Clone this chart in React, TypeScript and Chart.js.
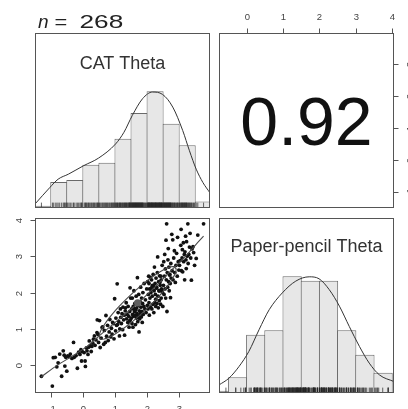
import React, { useEffect, useRef } from "react";
import { Chart, registerables } from "chart.js";

Chart.register(...registerables);

// ---------------- data ----------------
const SAMPLE_SIZE = 268;
const CORRELATION = 0.92;

const CAT_RANGE = [-1.49, 3.96];
const PAPER_RANGE = [-0.76, 4.05];

const CAT_BIN_CENTERS = [-1.25, -0.75, -0.25, 0.25, 0.75, 1.25, 1.75, 2.25, 2.75, 3.25, 3.75];
const CAT_BIN_COUNTS = [1, 12, 13, 20, 21, 32, 44, 54, 39, 29, 3];
const PAPER_BIN_CENTERS = [-0.75, -0.25, 0.25, 0.75, 1.25, 1.75, 2.25, 2.75, 3.25, 3.75];
const PAPER_BIN_COUNTS = [1, 7, 26, 28, 52, 50, 50, 28, 17, 9];

// density curves (scaled so the tallest bar = 1)
const CAT_DENS_X = [-1.49, -1.03, -0.77, -0.45, 0.02, 0.49, 1.02, 1.28, 1.54, 1.86, 2.17, 2.48, 2.8, 3.11, 3.32, 3.53, 3.74, 3.96];
const CAT_DENS_Y = [0.034, 0.175, 0.247, 0.29, 0.362, 0.428, 0.549, 0.649, 0.793, 0.937, 0.994, 0.974, 0.865, 0.664, 0.491, 0.333, 0.218, 0.13];
const PAPER_DENS_X = [-0.76, -0.49, -0.21, 0.06, 0.34, 0.62, 0.98, 1.35, 1.72, 1.99, 2.27, 2.55, 2.82, 3.1, 3.37, 3.65, 4.05];
const PAPER_DENS_Y = [0.069, 0.126, 0.227, 0.356, 0.542, 0.714, 0.858, 0.959, 0.996, 0.979, 0.886, 0.744, 0.571, 0.399, 0.256, 0.155, 0.098];

// smooth fit through the scatter
const LOESS_X = [-1.3, -0.8, -0.3, 0.1, 0.6, 1.1, 1.7, 2.3, 2.8, 3.2, 3.5, 3.76];
const LOESS_Y = [-0.32, 0.0, 0.27, 0.5, 0.88, 1.25, 1.7, 2.2, 2.65, 3.0, 3.3, 3.55];

// correlation ellipse spread
const ELLIPSE_X_SD = 1.2;
const ELLIPSE_Y_SD = 1.0;

const CAT_TICKS = [-1, 0, 1, 2, 3];
const CAT_TICK_LABELS = ["-1", "0", "1", "2", "3"];
const PAPER_TICKS = [0, 1, 2, 3, 4];
const PAPER_TICK_LABELS = ["0", "1", "2", "3", "4"];

const CAT_THETA = [
  -1.29,
  -0.95, -0.92, -0.86, -0.81, -0.77, -0.72, -0.66, -0.61, -0.58, -0.56, -0.53, -0.5,
  -0.47, -0.43, -0.39, -0.34, -0.29, -0.27, -0.21, -0.17, -0.13, -0.09, -0.06, -0.04, -0.02,
  0.04, 0.07, 0.08, 0.11, 0.13, 0.16, 0.18, 0.2, 0.23, 0.26, 0.28, 0.31, 0.33, 0.36, 0.38, 0.41, 0.44, 0.45, 0.47, 0.49,
  0.52, 0.54, 0.57, 0.6, 0.62, 0.65, 0.67, 0.7, 0.72, 0.74, 0.77, 0.79, 0.82, 0.84, 0.87, 0.89, 0.91, 0.93, 0.95, 0.97, 0.99,
  1.02, 1.03, 1.05, 1.07, 1.08, 1.1, 1.12, 1.14, 1.15, 1.17, 1.18, 1.2, 1.22, 1.24, 1.25, 1.27, 1.29, 1.3, 1.32, 1.33,
  1.35, 1.36, 1.38, 1.4, 1.41, 1.43, 1.44, 1.45, 1.46, 1.47, 1.48, 1.49,
  1.51, 1.52, 1.53, 1.54, 1.55, 1.56, 1.57, 1.58, 1.59, 1.6, 1.61, 1.62, 1.63, 1.64, 1.65, 1.66, 1.67, 1.68, 1.69, 1.7,
  1.71, 1.72, 1.73, 1.74, 1.75, 1.76, 1.77, 1.78, 1.79, 1.8, 1.81, 1.82, 1.83, 1.84, 1.85, 1.86, 1.87, 1.88, 1.9, 1.91,
  1.93, 1.95, 1.97, 1.99,
  2.01, 2.02, 2.03, 2.04, 2.05, 2.06, 2.07, 2.08, 2.09, 2.1, 2.11, 2.12, 2.13, 2.14, 2.15, 2.16, 2.17, 2.18, 2.19, 2.2,
  2.21, 2.22, 2.23, 2.24, 2.25, 2.26, 2.27, 2.28, 2.29, 2.3, 2.31, 2.32, 2.33, 2.34, 2.35, 2.36, 2.37, 2.38, 2.39, 2.4,
  2.41, 2.42, 2.43, 2.44, 2.45, 2.46, 2.47, 2.48, 2.49, 2.44, 2.38, 2.27, 2.15, 2.06,
  2.51, 2.52, 2.53, 2.54, 2.55, 2.56, 2.57, 2.58, 2.59, 2.6, 2.61, 2.62, 2.63, 2.64, 2.65, 2.66, 2.67, 2.68, 2.69, 2.7,
  2.71, 2.72, 2.73, 2.74, 2.75, 2.77, 2.78, 2.8, 2.81, 2.83, 2.85, 2.86, 2.88, 2.9, 2.92, 2.94, 2.95, 2.97, 2.99,
  3.01, 3.03, 3.05, 3.06, 3.07, 3.09, 3.1, 3.11, 3.13, 3.14, 3.16, 3.17, 3.18, 3.2, 3.21, 3.22, 3.23, 3.25, 3.27, 3.28,
  3.3, 3.32, 3.34, 3.36, 3.38, 3.4, 3.43, 3.45, 3.48,
  3.53, 3.58, 3.76,
];

const PAPER_THETA = [
  -0.3,
  -0.57, 0.21, 0.22, -0.04, 0.07, 0.31, -0.3, 0.4, 0.28, -0.02, 0.22, -0.16,
  0.26, 0.24, 0.31, 0.19, 0.63, 0.22, 0.27, -0.08, 0.36, 0.3, 0.43, 0.12, 0.38,
  0.35, 0.12, -0.03, 0.48, 0.4, 0.3, 0.5, 0.67, 0.54, 0.38, 0.52, 0.61, 0.72, 0.81, 0.55, 0.7, 0.9, 1.25, 0.85, 0.63,
  1.23, 0.49, 0.75, 1.04, 1.06, 0.58, 0.96, 0.63, 1.37, 0.8, 1.1, 0.68, 0.92, 1.26, 0.78, 1.02, 0.86, 1.18, 1.15, 0.73, 1.83,
  0.95, 1.3, 1.1, 2.24, 1.12, 1.45, 1.2, 0.81, 1.0, 1.55, 1.32, 1.15, 1.42, 0.98, 1.6, 1.25, 1.38, 0.83, 1.5, 1.58,
  1.72, 1.28, 1.4, 1.18, 1.62, 1.35, 1.05, 1.22, 1.48, 2.13, 1.25, 1.85,
  1.3, 1.55, 1.15, 1.85, 1.4, 1.05, 1.62, 1.35, 2.05, 1.56, 1.48, 1.7, 1.38, 1.12, 1.52, 1.9, 1.3, 1.58, 1.42, 2.41,
  1.2, 1.65, 1.35, 1.95, 0.92, 1.5, 1.28, 1.75, 1.42, 2.15, 1.6, 1.33, 1.85, 1.48, 1.18, 1.7, 2.0, 1.4, 1.62, 2.25,
  1.55, 1.8, 1.45, 2.1,
  1.65, 2.3, 1.55, 1.95, 2.45, 1.72, 1.38, 2.1, 1.85, 2.42, 1.6, 2.0, 2.08, 2.35, 1.55, 1.9, 2.2, 1.68, 2.5, 2.18,
  1.45, 2.05, 2.7, 1.72, 2.25, 1.95, 1.62, 2.4, 2.12, 2.15, 1.7, 2.55, 2.98, 1.9, 1.58, 2.3, 2.05, 1.78, 2.46, 2.28,
  2.2, 1.68, 2.45, 1.85, 2.1, 2.05, 2.75, 2.0, 1.62, 2.35, 2.05, 1.82, 2.15, 2.25,
  2.2, 2.85, 1.95, 2.45, 3.05, 2.1, 2.65, 1.85, 3.44, 2.35, 3.89, 1.48, 2.55, 2.15, 2.9, 3.21, 2.3, 2.7, 2.05, 2.48,
  2.5, 2.25, 1.86, 2.8, 2.4, 3.6, 2.6, 3.45, 2.35, 2.95, 3.15, 2.55, 2.28, 2.75, 3.08, 2.45, 3.52, 2.85, 2.62,
  2.75, 2.88, 3.3, 3.74, 2.6, 2.95, 3.18, 2.57, 3.37, 2.85, 3.05, 2.35, 3.12, 3.55, 2.9, 2.66, 3.4, 3.0, 3.89, 2.8,
  3.05, 3.25, 3.63, 2.95, 2.34, 3.2, 3.26, 3.1, 2.75,
  2.94, 3.58, 3.89,
];

// ---------------- layout / style ----------------
const W = 408;
const H = 409;
const COL_X = [[35, 210], [219, 394]];
const ROW_Y = [[33, 208], [218, 393]];
const HIST_TOP = 1.5;
const RUG_Y = 0.023;

const FONT = '"Liberation Sans", Arial, Helvetica, sans-serif';
const BOX_COLOR = "#555";
const LABEL_COLOR = "#444";
const LINE_COLOR = "#4a4a4a";
const TICK_LEN = 5;
const LABEL_OFF = 16.5;

function padFor(col: number, row: number) {
  return {
    left: COL_X[col][0],
    right: W - COL_X[col][1],
    top: ROW_Y[row][0],
    bottom: H - ROW_Y[row][1],
  };
}

function drawBox(chart: any) {
  const { ctx, chartArea: a } = chart;
  ctx.save();
  ctx.strokeStyle = BOX_COLOR;
  ctx.lineWidth = 1;
  ctx.strokeRect(a.left + 0.5, a.top + 0.5, a.right - a.left - 1, a.bottom - a.top - 1);
  ctx.restore();
}

function drawAxis(chart: any, side: string, values: number[], labels: string[]) {
  const { ctx, chartArea: a, scales } = chart;
  ctx.save();
  ctx.strokeStyle = BOX_COLOR;
  ctx.lineWidth = 1;
  ctx.fillStyle = LABEL_COLOR;
  ctx.font = `9.5px ${FONT}`;
  ctx.textAlign = "center";
  ctx.textBaseline = "middle";
  values.forEach((v, i) => {
    if (side === "top" || side === "bottom") {
      const px = Math.round(scales.x.getPixelForValue(v)) + 0.5;
      const edge = side === "top" ? a.top + 0.5 : a.bottom - 0.5;
      const dir = side === "top" ? -1 : 1;
      ctx.beginPath();
      ctx.moveTo(px, edge);
      ctx.lineTo(px, edge + dir * TICK_LEN);
      ctx.stroke();
      ctx.fillText(labels[i], px, edge + dir * LABEL_OFF);
    } else {
      const py = Math.round(scales.y.getPixelForValue(v)) + 0.5;
      const edge = side === "left" ? a.left + 0.5 : a.right - 0.5;
      const dir = side === "left" ? -1 : 1;
      ctx.beginPath();
      ctx.moveTo(edge, py);
      ctx.lineTo(edge + dir * TICK_LEN, py);
      ctx.stroke();
      ctx.save();
      ctx.translate(edge + dir * LABEL_OFF, py);
      ctx.rotate(-Math.PI / 2);
      ctx.fillText(labels[i], 0, 0);
      ctx.restore();
    }
  });
  ctx.restore();
}

function centerLabel(chart: any, text: string, baseline: number) {
  const { ctx, chartArea: a } = chart;
  ctx.save();
  ctx.fillStyle = "#333";
  ctx.font = `18px ${FONT}`;
  ctx.textAlign = "center";
  ctx.textBaseline = "alphabetic";
  ctx.fillText(text, (a.left + a.right) / 2, baseline);
  ctx.restore();
}

function scaledText(ctx: any, text: string, x: number, y: number, sx: number) {
  ctx.save();
  ctx.translate(x, y);
  ctx.scale(sx, 1);
  ctx.fillText(text, 0, 0);
  ctx.restore();
}

const baseOptions = (col: number, row: number, xr: number[], yr: number[]) => ({
  responsive: false,
  animation: false as const,
  devicePixelRatio: 1,
  events: [] as any[],
  layout: { padding: padFor(col, row) },
  plugins: { legend: { display: false }, tooltip: { enabled: false }, title: { display: false } },
  scales: {
    x: { type: "linear" as const, min: xr[0], max: xr[1], display: false, offset: false, ticks: { includeBounds: false, stepSize: 1 } },
    y: { type: "linear" as const, min: yr[0], max: yr[1], display: false, offset: false, ticks: { includeBounds: false, stepSize: 1 } },
  },
});

function histDatasets(values: number[], centers: number[], counts: number[], dx: number[], dy: number[]) {
  const maxCount = Math.max(...counts);
  return [
    {
      type: "scatter",
      data: values.map((v) => ({ x: v, y: RUG_Y })),
      pointStyle: "line",
      pointRotation: 90,
      rotation: 90,
      pointRadius: 2.7,
      borderColor: "#222",
      pointBorderColor: "#222",
      backgroundColor: "#222",
      pointBorderWidth: 0.7,
      borderWidth: 0.7,
      clip: false,
    },
    {
      type: "line",
      data: dx.map((x, i) => ({ x, y: dy[i] })),
      borderColor: "#333",
      borderWidth: 1,
      pointRadius: 0,
      cubicInterpolationMode: "monotone",
      fill: false,
      clip: 0,
    },
    {
      type: "bar",
      data: centers.map((x, i) => ({ x, y: counts[i] / maxCount })),
      backgroundColor: "#e7e7e7",
      borderColor: "#6a6a6a",
      borderWidth: 1,
      borderSkipped: false,
      barPercentage: 1.06,
      categoryPercentage: 1,
      inflateAmount: 0,
      clip: 0,
    },
  ];
}

function mean(a: number[]) {
  return a.reduce((s, v) => s + v, 0) / a.length;
}

function ellipsePoints(mx: number, my: number, sx: number, sy: number, r: number) {
  const segments = 60;
  const theta = 1 / Math.sqrt(2);
  const a = Math.sqrt(1 + r);
  const b = Math.sqrt(1 - r);
  const pts = [];
  for (let i = 0; i <= segments; i++) {
    const t = (i / segments) * 2 * Math.PI;
    const c = Math.cos(t);
    const s = Math.sin(t);
    pts.push({ x: mx + (c * a * theta - s * b * theta) * sx, y: my + (c * a * theta + s * b * theta) * sy });
  }
  return pts;
}

function makeConfigs(): any[] {
  const n = Math.min(CAT_THETA.length, PAPER_THETA.length);
  const cat = CAT_THETA.slice(0, n);
  const paper = PAPER_THETA.slice(0, n);
  const mx = mean(cat);
  const my = mean(paper);

  const catHist = {
    type: "scatter",
    data: { datasets: histDatasets(cat, CAT_BIN_CENTERS, CAT_BIN_COUNTS, CAT_DENS_X, CAT_DENS_Y) },
    options: baseOptions(0, 0, CAT_RANGE, [0, HIST_TOP]),
    plugins: [
      {
        id: "catDecor",
        afterDraw(chart: any) {
          drawBox(chart);
          centerLabel(chart, "CAT Theta", 69);
          const ctx = chart.ctx;
          ctx.save();
          ctx.fillStyle = "#222";
          ctx.textAlign = "left";
          ctx.textBaseline = "alphabetic";
          ctx.font = `italic 19px ${FONT}`;
          ctx.fillText("n", 38, 27.7);
          ctx.font = `19px ${FONT}`;
          scaledText(ctx, "=", 54.5, 27.7, 1.15);
          scaledText(ctx, String(SAMPLE_SIZE), 79.5, 27.7, 1.38);
          ctx.restore();
        },
      },
    ],
  };

  const corr = {
    type: "scatter",
    data: { datasets: [] },
    options: baseOptions(1, 0, PAPER_RANGE, CAT_RANGE),
    plugins: [
      {
        id: "corrDecor",
        afterDraw(chart: any) {
          drawBox(chart);
          drawAxis(chart, "top", PAPER_TICKS, PAPER_TICK_LABELS);
          drawAxis(chart, "right", CAT_TICKS, CAT_TICK_LABELS);
          const { ctx, chartArea: a } = chart;
          ctx.save();
          ctx.fillStyle = "#111";
          ctx.font = `68px ${FONT}`;
          ctx.textAlign = "center";
          ctx.textBaseline = "alphabetic";
          ctx.fillText(CORRELATION.toFixed(2), (a.left + a.right) / 2, 145);
          ctx.restore();
        },
      },
    ],
  };

  const scatter = {
    type: "scatter",
    data: {
      datasets: [
        {
          type: "scatter",
          data: [{ x: mx, y: my }],
          pointRadius: 3.6,
          backgroundColor: "#5f5f5f",
          pointBackgroundColor: "#5f5f5f",
          pointBorderWidth: 0,
          borderWidth: 0,
        },
        {
          type: "line",
          data: ellipsePoints(mx, my, ELLIPSE_X_SD, ELLIPSE_Y_SD, CORRELATION),
          borderColor: LINE_COLOR,
          borderWidth: 1.1,
          pointRadius: 0,
          tension: 0,
          fill: false,
          clip: 0,
        },
        {
          type: "line",
          data: LOESS_X.map((x, i) => ({ x, y: LOESS_Y[i] })),
          borderColor: LINE_COLOR,
          borderWidth: 1.1,
          pointRadius: 0,
          cubicInterpolationMode: "monotone",
          fill: false,
          clip: 0,
        },
        {
          type: "scatter",
          data: cat.map((x, i) => ({ x, y: paper[i] })),
          pointRadius: 1.9,
          backgroundColor: "#111",
          pointBackgroundColor: "#111",
          pointBorderWidth: 0,
          borderWidth: 0,
          clip: 0,
        },
      ],
    },
    options: baseOptions(0, 1, CAT_RANGE, PAPER_RANGE),
    plugins: [
      {
        id: "scatterDecor",
        afterDraw(chart: any) {
          drawBox(chart);
          drawAxis(chart, "bottom", CAT_TICKS, CAT_TICK_LABELS);
          drawAxis(chart, "left", PAPER_TICKS, PAPER_TICK_LABELS);
        },
      },
    ],
  };

  const paperHist = {
    type: "scatter",
    data: { datasets: histDatasets(paper, PAPER_BIN_CENTERS, PAPER_BIN_COUNTS, PAPER_DENS_X, PAPER_DENS_Y) },
    options: baseOptions(1, 1, PAPER_RANGE, [0, HIST_TOP]),
    plugins: [
      {
        id: "paperDecor",
        afterDraw(chart: any) {
          drawBox(chart);
          centerLabel(chart, "Paper-pencil Theta", 252);
        },
      },
    ],
  };

  return [catHist, corr, scatter, paperHist];
}

function Panel({ config }: { config: any }) {
  const ref = useRef<HTMLCanvasElement>(null);
  useEffect(() => {
    if (!ref.current) return;
    const chart = new Chart(ref.current, config);
    return () => chart.destroy();
  }, [config]);
  return (
    <canvas
      ref={ref}
      width={W}
      height={H}
      style={{ position: "absolute", left: 0, top: 0, width: W, height: H }}
    />
  );
}

const CONFIGS = makeConfigs();

export default function App() {
  return (
    <div style={{ position: "absolute", left: 0, top: 0, width: W, height: H, background: "#fff", overflow: "hidden" }}>
      {CONFIGS.map((c, i) => (
        <Panel key={i} config={c} />
      ))}
    </div>
  );
}
